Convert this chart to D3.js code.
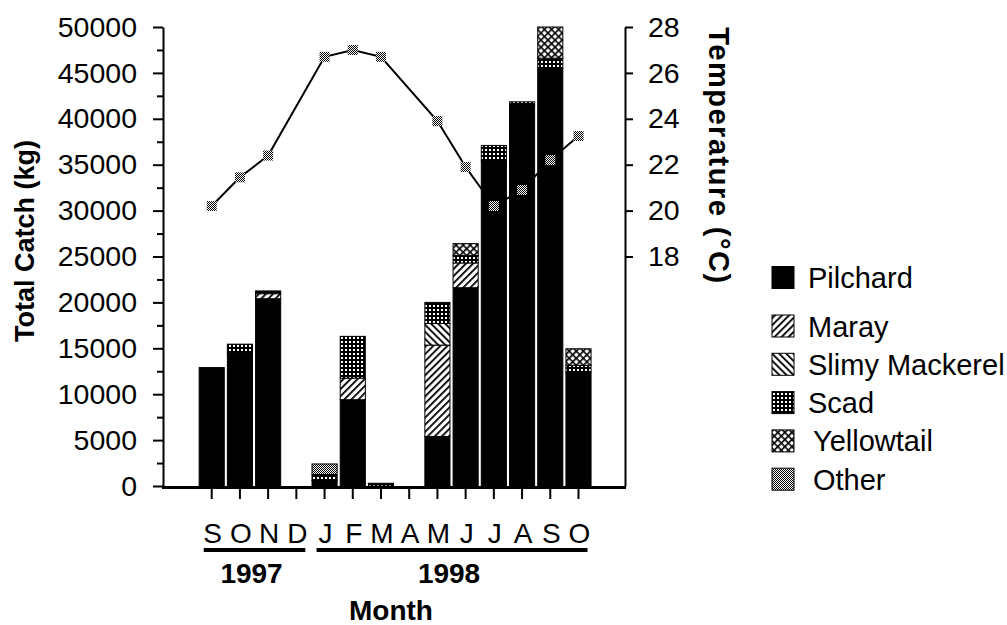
<!DOCTYPE html>
<html>
<head>
<meta charset="utf-8">
<script src="https://cdn.jsdelivr.net/npm/d3@7"></script>
<style>
  html, body { margin: 0; padding: 0; background: #fff; }
  svg { display: block; }
  text { font-family: "Liberation Sans", Arial, Helvetica, sans-serif; fill: #000; }
</style>
</head>
<body>
<svg id="chart" width="1007" height="625"></svg>
<script>
// ---- data ----
const months = ["S","O","N","D","J","F","M","A","M","J","J","A","S","O"];
const years = ["1997","1998"];
const yearOfMonth = [0,0,0,0,1,1,1,1,1,1,1,1,1,1];
const species = ["Pilchard","Maray","Slimy Mackerel","Scad","Yellowtail","Other"];
const pilchard   = [12900, 14450, 20400, 0,  600, 9400,   0, 0,  5400, 21600, 35400, 41500, 45500, 12400];
const maray      = [    0,     0,   550, 0,    0, 2350,   0, 0,  9950,  2700,     0,     0,     0,     0];
const slimy      = [    0,     0,     0, 0,    0,    0,   0, 0,  2350,     0,     0,     0,     0,     0];
const scad       = [    0,  1000,   300, 0,  650, 4550, 300, 0,  2300,   800,  1700,   350,  1100,   750];
const yellowtail = [    0,     0,     0, 0,    0,    0,   0, 0,     0,  1300,     0,     0,  3400,  1800];
const other      = [    0,     0,     0, 0, 1150,    0,   0, 0,     0,     0,     0,     0,     0,     0];
const temperature = [20.2, 21.45, 22.4, null, 26.7, 27.0, 26.7, null, 23.9, 21.9, 20.2, 20.9, 22.2, 23.25];
const catchTicks = [0,5000,10000,15000,20000,25000,30000,35000,40000,45000,50000];
const tempTicks = [18,20,22,24,26,28];

const seriesValues = [pilchard, maray, slimy, scad, yellowtail, other];
const patternIds = ["pilchard","maray","slimy","scad","yellowtail","other"];

// ---- layout ----
const svg = d3.select("#chart");
const yBottom = 486, yTop = 27;
const xLeft = 163, xRight = 625;

const x = d3.scaleBand()
  .domain(d3.range(months.length))
  .range([197.6, 592.6])
  .paddingInner(0.11)
  .paddingOuter(0.055);
const y = d3.scaleLinear().domain([0, 50000]).range([yBottom, yTop]);
const yT = d3.scaleLinear().domain([8, 28]).range([yBottom, yTop]);

// ---- patterns ----
const defs = svg.append("defs");
function linePattern(id, angle) {
  const p = defs.append("pattern").attr("id", id)
    .attr("patternUnits", "userSpaceOnUse").attr("width", 5).attr("height", 5)
    .attr("patternTransform", `rotate(${angle})`);
  p.append("rect").attr("width", 5).attr("height", 5).attr("fill", "#fff");
  p.append("rect").attr("x", 0).attr("y", 0).attr("width", 1.8).attr("height", 5).attr("fill", "#000");
}
defs.append("pattern").attr("id", "pilchard").attr("patternUnits", "userSpaceOnUse")
  .attr("width", 4).attr("height", 4)
  .append("rect").attr("width", 4).attr("height", 4).attr("fill", "#000");
linePattern("maray", 45);
linePattern("slimy", -45);
{
  const p = defs.append("pattern").attr("id", "scad").attr("patternUnits", "userSpaceOnUse")
    .attr("width", 4).attr("height", 4);
  p.append("rect").attr("width", 4).attr("height", 4).attr("fill", "#000");
  p.append("rect").attr("x", 1).attr("y", 1).attr("width", 2).attr("height", 2).attr("fill", "#fff");
}
{
  const p = defs.append("pattern").attr("id", "yellowtail").attr("patternUnits", "userSpaceOnUse")
    .attr("width", 5).attr("height", 5).attr("patternTransform", "rotate(45)");
  p.append("rect").attr("width", 5).attr("height", 5).attr("fill", "#fff");
  p.append("rect").attr("x", 0).attr("y", 0).attr("width", 1.6).attr("height", 5).attr("fill", "#000");
  p.append("rect").attr("x", 0).attr("y", 0).attr("width", 5).attr("height", 1.6).attr("fill", "#000");
}
{
  const p = defs.append("pattern").attr("id", "other").attr("patternUnits", "userSpaceOnUse")
    .attr("width", 2).attr("height", 2);
  p.append("rect").attr("width", 2).attr("height", 2).attr("fill", "#fff");
  p.append("rect").attr("x", 0).attr("y", 0).attr("width", 1).attr("height", 1).attr("fill", "#000");
  p.append("rect").attr("x", 1).attr("y", 1).attr("width", 1).attr("height", 1).attr("fill", "#000");
}

// ---- temperature line (behind bars) ----
const tempPts = temperature.map((t, i) => ({ i, t })).filter(d => d.t !== null);
svg.append("path")
  .datum(tempPts)
  .attr("fill", "none").attr("stroke", "#000").attr("stroke-width", 2)
  .attr("d", d3.line().x(d => x(d.i) + x.bandwidth() / 2).y(d => yT(d.t)));

// ---- stacked bars ----
const table = months.map((m, i) => {
  const row = { i };
  species.forEach((s, k) => row[s] = seriesValues[k][i]);
  return row;
});
const stacked = d3.stack().keys(species)(table);
stacked.forEach((layer, k) => {
  svg.append("g").selectAll("rect")
    .data(layer.filter(d => d[1] - d[0] > 0))
    .join("rect")
    .attr("x", d => x(d.data.i))
    .attr("width", x.bandwidth())
    .attr("y", d => y(d[1]))
    .attr("height", d => y(d[0]) - y(d[1]))
    .attr("fill", `url(#${patternIds[k]})`)
    .attr("stroke", "#000").attr("stroke-width", 1);
});

// ---- temperature markers ----
svg.append("g").selectAll("rect")
  .data(tempPts)
  .join("rect")
  .attr("x", d => x(d.i) + x.bandwidth() / 2 - 5)
  .attr("y", d => yT(d.t) - 5)
  .attr("width", 10).attr("height", 10)
  .attr("fill", "url(#other)");

// ---- axes ----
const leftAxis = svg.append("g").attr("transform", `translate(${xLeft},0)`)
  .call(d3.axisLeft(y).tickValues(catchTicks).tickFormat(d3.format("d"))
    .tickSize(10).tickSizeOuter(0).tickPadding(16));
svg.append("g").attr("transform", `translate(${xLeft},0)`)
  .call(d3.axisLeft(y).tickValues(catchTicks.slice(0, -1).map(v => v + 2500))
    .tickSize(6).tickSizeOuter(0).tickFormat(""))
  .select(".domain").remove();

const rightAxis = svg.append("g").attr("transform", `translate(${xRight},0)`)
  .call(d3.axisRight(yT).tickValues(tempTicks).tickSize(8).tickSizeOuter(0).tickPadding(15));

[leftAxis, rightAxis].forEach(g => {
  g.selectAll("text").style("font-size", "28.5px").style("font-family", "'Liberation Sans', Arial, sans-serif");
  g.selectAll("line").attr("stroke-width", 2);
  g.select(".domain").attr("stroke-width", 2);
});
svg.selectAll("g line").attr("stroke-width", 2);

// bottom axis
svg.append("line").attr("x1", xLeft - 1).attr("x2", xRight + 1)
  .attr("y1", yBottom + 1.5).attr("y2", yBottom + 1.5)
  .attr("stroke", "#000").attr("stroke-width", 3);
svg.append("g").selectAll("line")
  .data(d3.range(months.length))
  .join("line")
  .attr("x1", i => x(i) + x.bandwidth() / 2).attr("x2", i => x(i) + x.bandwidth() / 2)
  .attr("y1", yBottom + 2).attr("y2", yBottom + 13)
  .attr("stroke", "#000").attr("stroke-width", 2);
svg.append("g").selectAll("text")
  .data(months)
  .join("text")
  .attr("x", (m, i) => x(i) + x.bandwidth() / 2 + 1)
  .attr("y", 543)
  .attr("text-anchor", "middle")
  .style("font-size", "28px")
  .text(m => m);

// year underlines and labels
years.forEach((yr, k) => {
  const idx = d3.range(months.length).filter(i => yearOfMonth[i] === k);
  const x1 = x(idx[0]) + x.bandwidth() / 2 - 8;
  const x2 = x(idx[idx.length - 1]) + x.bandwidth() / 2 + 9;
  svg.append("line").attr("x1", x1).attr("x2", x2).attr("y1", 550).attr("y2", 550)
    .attr("stroke", "#000").attr("stroke-width", 4);
  svg.append("text").attr("x", (x1 + x2) / 2 - 3).attr("y", 583)
    .attr("text-anchor", "middle").style("font-size", "28px").style("font-weight", "bold")
    .text(yr);
});

svg.append("text").attr("x", 391).attr("y", 620).attr("text-anchor", "middle")
  .style("font-size", "28px").style("font-weight", "bold").text("Month");

svg.append("text").attr("transform", "translate(34,241) rotate(-90)")
  .attr("text-anchor", "middle").style("font-size", "27px").style("font-weight", "bold")
  .text("Total Catch (kg)");
svg.append("text").attr("transform", "translate(709,156) rotate(90)")
  .attr("text-anchor", "middle").style("font-size", "29px").style("font-weight", "bold")
  .style("letter-spacing", "1.5px")
  .text("Temperature (°C)");

// ---- legend ----
const legendY = [277.5, 326, 364.3, 402.6, 440.9, 479.2];
const legendTextX = [808, 808, 808, 808, 813, 813];
const lg = svg.append("g");
species.forEach((s, k) => {
  lg.append("rect").attr("x", 772).attr("y", legendY[k] - 11).attr("width", 22).attr("height", 22)
    .attr("fill", `url(#${patternIds[k]})`).attr("stroke", "#000").attr("stroke-width", 1);
  lg.append("text").attr("x", legendTextX[k]).attr("y", legendY[k] + 10.5)
    .style("font-size", "29px").text(s);
});
</script>
</body>
</html>
